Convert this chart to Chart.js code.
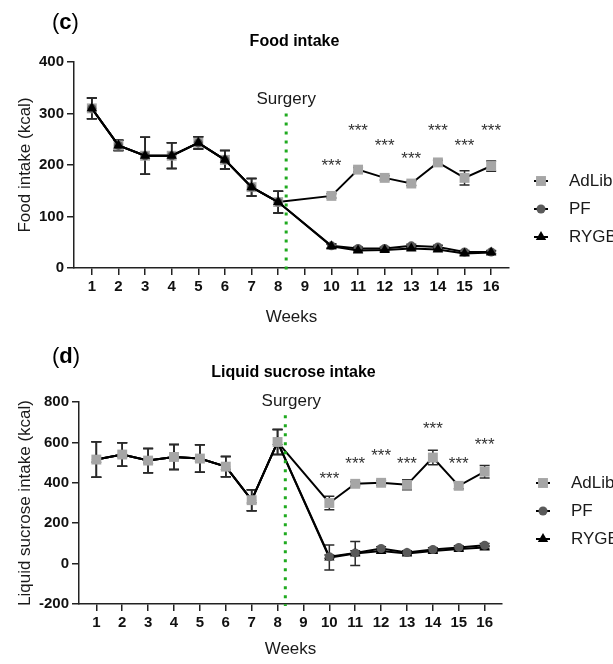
<!DOCTYPE html>
<html lang="en">
<head>
<meta charset="UTF-8">
<title>Food and liquid sucrose intake</title>
<style>
  body { margin: 0; background: #fff; }
  .panel { width: 613px; height: 332px; }
</style>
</head>
<body>
<div class="panel"><canvas id="foodChart" width="613" height="332"></canvas></div>
<div class="panel"><canvas id="sucroseChart" width="613" height="332"></canvas></div>

<script src="https://cdn.jsdelivr.net/npm/chart.js"></script>
<script>
// weeks with measurements (no week 9 = surgery)
const weeks = [1, 2, 3, 4, 5, 6, 7, 8, 10, 11, 12, 13, 14, 15, 16];
const weekTicks = [1, 2, 3, 4, 5, 6, 7, 8, 9, 10, 11, 12, 13, 14, 15, 16];
const starWeeks = [10, 11, 12, 13, 14, 15, 16];
const surgeryWeek = 8.3;

// (c) food intake, kcal
const foodAdLib    = [310, 238, 218, 218, 243, 210, 157, 128, 140, 191, 175, 164, 205, 175, 198];
const foodAdLibErr = [20, 10, 36, 25, 12, 18, 17, 21, 4, 4, 4, 4, 4, 14, 10];
const foodPF       = [310, 238, 218, 218, 243, 210, 157, 128, 43, 38, 38, 43, 41, 31, 31];
const foodPFErr    = [20, 10, 36, 25, 12, 18, 17, 21, 4, 3, 3, 3, 3, 3, 3];
const foodRYGB     = [310, 238, 218, 218, 243, 210, 157, 128, 42, 34, 35, 38, 36, 28, 30];
const foodRYGBErr  = [20, 10, 36, 25, 12, 18, 17, 21, 4, 3, 3, 3, 3, 3, 3];
const foodStars    = [206, 274, 245, 219, 274, 245, 274];

// (d) liquid sucrose intake, kcal
const sucAdLib    = [515, 540, 510, 528, 520, 480, 314, 602, 300, 395, 400, 390, 525, 385, 455];
const sucAdLibErr = [88, 58, 60, 62, 68, 50, 52, 62, 33, 10, 12, 25, 36, 15, 31];
const sucPF       = [515, 540, 510, 528, 520, 480, 314, 602, 34, 53, 75, 55, 70, 80, 91];
const sucPFErr    = [88, 58, 60, 62, 68, 50, 52, 62, 8, 10, 8, 8, 8, 8, 8];
const sucRYGB     = [515, 540, 510, 528, 520, 480, 314, 602, 30, 50, 62, 50, 62, 72, 80];
const sucRYGBErr  = [88, 58, 60, 62, 68, 50, 52, 62, 62, 60, 10, 8, 8, 8, 8];
const sucStars    = [437, 511, 553, 511, 688, 511, 605];

const FONT = "'Liberation Sans', Arial, sans-serif";
const INK = '#1a1a1a';

function points(values) {
    return values.map((v, i) => ({ x: weeks[i], y: v }));
}

function series(label, values, errors, style, color, radius, order) {
    return {
        label: label,
        data: points(values),
        errors: errors,
        borderColor: '#000',
        borderWidth: 2,
        pointStyle: style,
        pointRadius: radius,
        pointBackgroundColor: color,
        pointBorderWidth: 0,
        order: order,
        tension: 0
    };
}

// error bars, titles, surgery marker, significance stars, panel letter, legend
const extras = {
    id: 'extras',
    beforeDatasetsDraw(chart) {
        const ctx = chart.ctx;
        const y = chart.scales.y;
        ctx.save();
        ctx.strokeStyle = '#2a2a2a';
        ctx.lineWidth = 1.5;
        chart.data.datasets.forEach((ds, di) => {
            const meta = chart.getDatasetMeta(di);
            meta.data.forEach((el, i) => {
                const e = ds.errors[i];
                const v = ds.data[i].y;
                const top = y.getPixelForValue(v + e);
                const bot = y.getPixelForValue(v - e);
                ctx.beginPath();
                ctx.moveTo(el.x, top); ctx.lineTo(el.x, bot);
                ctx.moveTo(el.x - 5, top); ctx.lineTo(el.x + 5, top);
                ctx.moveTo(el.x - 5, bot); ctx.lineTo(el.x + 5, bot);
                ctx.stroke();
            });
        });
        ctx.restore();
    },
    afterDraw(chart, args, opts) {
        const ctx = chart.ctx;
        const xs = chart.scales.x, ys = chart.scales.y;
        const area = chart.chartArea;
        ctx.save();

        // chart title
        ctx.fillStyle = '#000';
        ctx.font = 'bold 16px ' + FONT;
        ctx.textAlign = 'center';
        ctx.textBaseline = 'middle';
        ctx.fillText(opts.title, (area.left + area.right) / 2 + 3, opts.titleY);

        // surgery line
        const sx = xs.getPixelForValue(surgeryWeek);
        const sTop = ys.getPixelForValue(opts.surgeryTop);
        ctx.strokeStyle = '#1faa1f';
        ctx.lineWidth = 3;
        ctx.setLineDash([3, 6]);
        ctx.beginPath();
        ctx.moveTo(sx, sTop);
        ctx.lineTo(sx, area.bottom + 2);
        ctx.stroke();
        ctx.setLineDash([]);
        ctx.fillStyle = INK;
        ctx.font = '17px ' + FONT;
        ctx.fillText('Surgery', sx + opts.surgeryShift, sTop - 14);

        // stars
        ctx.font = '17px ' + FONT;
        ctx.textBaseline = 'alphabetic';
        ctx.fillStyle = '#333';
        opts.stars.forEach((v, i) => {
            ctx.fillText('***', xs.getPixelForValue(starWeeks[i]), ys.getPixelForValue(v) + 9);
        });

        // panel letter
        ctx.textAlign = 'left';
        ctx.fillStyle = '#000';
        let lx = 52;
        [['(', ''], [opts.letter, 'bold '], [')', '']].forEach(([t, w]) => {
            ctx.font = w + '22px ' + FONT;
            ctx.fillText(t, lx, opts.letterY);
            lx += ctx.measureText(t).width;
        });

        // legend
        chart.data.datasets.forEach((ds, k) => {
            const ly = opts.legendY + k * 28;
            const lx0 = opts.legendX;
            ctx.strokeStyle = '#000';
            ctx.lineWidth = 2;
            ctx.beginPath();
            ctx.moveTo(lx0 - 7, ly); ctx.lineTo(lx0 + 7, ly);
            ctx.stroke();
            ctx.fillStyle = ds.pointBackgroundColor;
            Chart.helpers.drawPoint(ctx, { pointStyle: ds.pointStyle, radius: ds.pointRadius, rotation: 0, borderWidth: 0 }, lx0, ly);
            ctx.fillStyle = INK;
            ctx.font = '17px ' + FONT;
            ctx.textBaseline = 'middle';
            ctx.fillText(ds.label, lx0 + 28, ly);
        });
        ctx.restore();
    }
};

function xAxis(height) {
    return {
        type: 'linear',
        min: 0.33,
        max: 16.67,
        afterBuildTicks: s => { s.ticks = weekTicks.map(v => ({ value: v })); },
        afterFit: s => { s.height = height; },
        grid: { drawOnChartArea: false, drawTicks: true, tickLength: 7, color: '#222', lineWidth: 1.5 },
        border: { display: true, color: '#222', width: 1.5 },
        ticks: { color: '#111', font: { family: FONT, size: 15, weight: 'bold' }, padding: 3, maxRotation: 0, autoSkip: false },
        title: { display: true, text: 'Weeks', color: INK, font: { family: FONT, size: 17 }, padding: { top: 4, bottom: 4 } }
    };
}

function yAxis(min, max, step, width, text) {
    return {
        min: min,
        max: max,
        afterFit: s => { s.width = width; },
        ticks: { stepSize: step, color: '#111', font: { family: FONT, size: 15, weight: 'bold' }, padding: 3 },
        grid: { drawOnChartArea: false, drawTicks: true, tickLength: 7, color: '#222', lineWidth: 1.5 },
        border: { display: true, color: '#222', width: 1.5 },
        title: { display: true, text: text, color: INK, font: { family: FONT, size: 17 }, padding: { top: 4, bottom: 4 } }
    };
}

function makeChart(id, datasets, cfg) {
    return new Chart(document.getElementById(id), {
        type: 'line',
        data: { datasets: datasets },
        options: {
            responsive: false,
            animation: false,
            layout: { padding: { left: 11, right: cfg.padRight, top: cfg.padTop, bottom: 0 } },
            scales: {
                x: xAxis(cfg.xHeight),
                y: yAxis(cfg.yMin, cfg.yMax, cfg.yStep, cfg.yWidth, cfg.yTitle)
            },
            plugins: {
                legend: { display: false },
                tooltip: { enabled: false },
                title: { display: false },
                extras: cfg.extras
            }
        },
        plugins: [extras]
    });
}

makeChart('foodChart', [
    series('AdLib', foodAdLib, foodAdLibErr, 'rect', '#a6a6a6', 7, 2),
    series('PF', foodPF, foodPFErr, 'circle', '#5a5a5a', 4.5, 1),
    series('RYGB', foodRYGB, foodRYGBErr, 'triangle', '#000', 6, 0)
], {
    padTop: 62,
    padRight: 104,
    xHeight: 64,
    yWidth: 63,
    yMin: 0, yMax: 400, yStep: 100,
    yTitle: 'Food intake (kcal)',
    extras: { title: 'Food intake', titleY: 42, stars: foodStars, surgeryTop: 300, surgeryShift: 0, letter: 'c', letterY: 29, legendX: 541, legendY: 181 }
});

makeChart('sucroseChart', [
    series('AdLib', sucAdLib, sucAdLibErr, 'rect', '#a6a6a6', 7, 0),
    series('PF', sucPF, sucPFErr, 'circle', '#5a5a5a', 4.5, 1),
    series('RYGB', sucRYGB, sucRYGBErr, 'triangle', '#000', 6, 2)
], {
    padTop: 70,
    padRight: 111,
    xHeight: 60,
    yWidth: 68,
    yMin: -200, yMax: 800, yStep: 200,
    yTitle: 'Liquid sucrose intake (kcal)',
    extras: { title: 'Liquid sucrose intake', titleY: 41, stars: sucStars, surgeryTop: 735, surgeryShift: 6, letter: 'd', letterY: 31, legendX: 543, legendY: 151 }
});
</script>
</body>
</html>
